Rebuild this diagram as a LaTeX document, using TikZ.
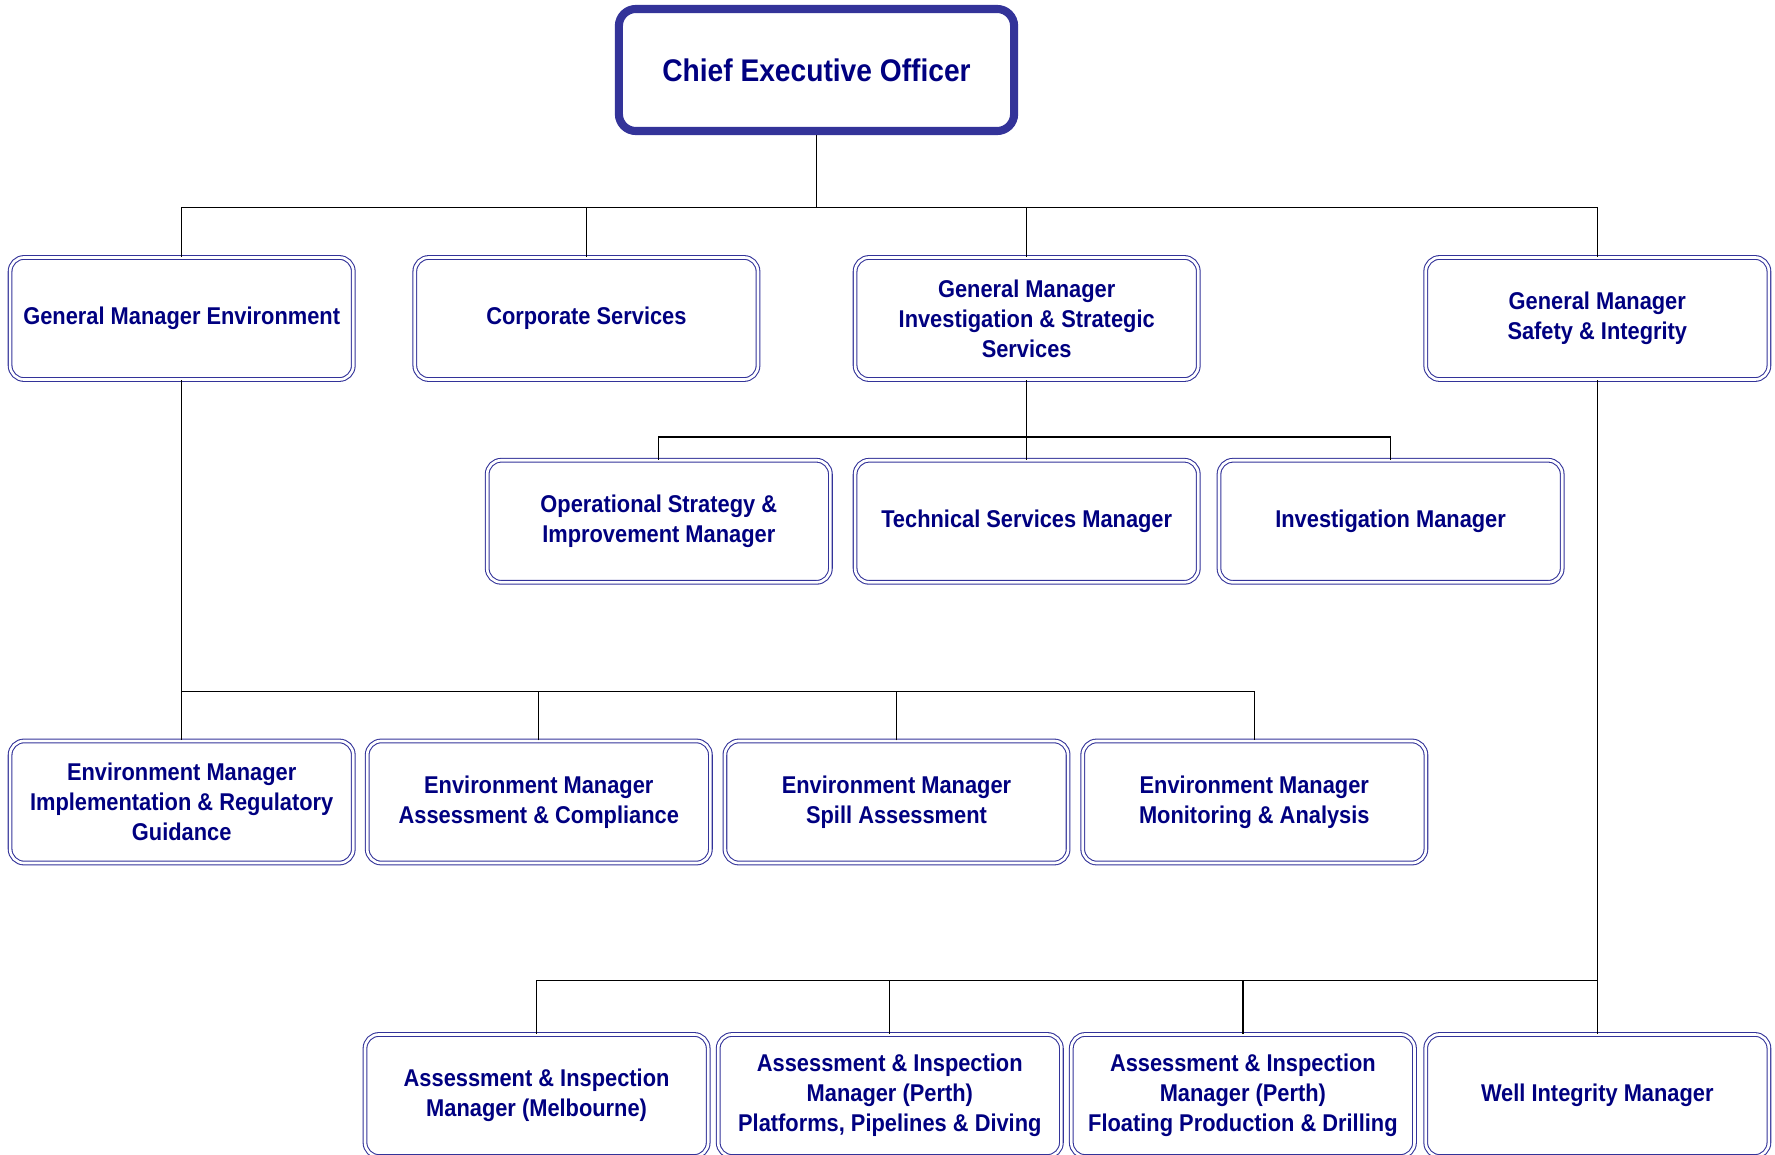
\documentclass[tikz,border=0pt]{standalone}
\usepackage{fontspec}
\setmainfont{Liberation Sans}[FakeStretch=0.9]
\definecolor{boxblue}{RGB}{51,51,153}
\definecolor{textnavy}{RGB}{0,0,128}

\begin{document}
\begin{tikzpicture}[x=0.01cm,y=-0.01cm,
  post/.style={draw=boxblue,double,double distance=0.75pt,line width=0.3pt,rounded corners=0.14cm,
    minimum width=3.43cm,minimum height=1.22cm,align=center,inner sep=1pt,
    text=textnavy,font=\fontsize{6.9}{8.5}\selectfont\bfseries},
  chief/.style={draw=boxblue,line width=2.3pt,rounded corners=0.17cm,
    minimum width=3.95cm,minimum height=1.22cm,align=center,
    text=textnavy,font=\fontsize{8.9}{11}\selectfont\bfseries},
  link/.style={line width=0.35pt}]

\useasboundingbox (0,0) rectangle (1775,1155);

% top
\node[chief] (ceo) at (816.5,70) {Chief Executive Officer};

% general managers
\node[post] (gme) at (181.7,318.5) {General Manager Environment};
\node[post] (corp) at (586.4,318.5) {Corporate Services};
\node[post] (gmis) at (1026.7,318.5) {General Manager\\Investigation \& Strategic\\Services};
\node[post] (gmsi) at (1597.3,318.5) {General Manager\\Safety \& Integrity};

% investigation & strategic services
\node[post] (osim) at (658.8,521.3) {Operational Strategy \&\\Improvement Manager};
\node[post] (tsm) at (1026.7,521.3) {Technical Services Manager};
\node[post] (invm) at (1390.6,521.3) {Investigation Manager};

% environment
\node[post] (emir) at (181.7,802) {Environment Manager\\Implementation \& Regulatory\\Guidance};
\node[post] (emac) at (538.8,802) {Environment Manager\\Assessment \& Compliance};
\node[post] (emsa) at (896.5,802) {Environment Manager\\Spill Assessment};
\node[post] (emma) at (1254.3,802) {Environment Manager\\Monitoring \& Analysis};

% safety & integrity
\node[post] (aimm) at (536.6,1095.5) {Assessment \& Inspection\\Manager (Melbourne)};
\node[post] (aipp) at (889.8,1095.5) {Assessment \& Inspection\\Manager (Perth)\\Platforms, Pipelines \& Diving};
\node[post] (aifp) at (1242.9,1095.5) {Assessment \& Inspection\\Manager (Perth)\\Floating Production \& Drilling};
\node[post] (wim) at (1597.3,1095.5) {Well Integrity Manager};

\coordinate (bus1) at (0,207.2);
\coordinate (bus2) at (0,436.9);
\coordinate (bus3) at (0,691.6);
\coordinate (bus4) at (0,980.3);

\draw[link] (ceo.south) -- (ceo.south |- bus1);
\draw[link] (gme.north) |- (bus1 -| gmsi.north) -- (gmsi.north);
\draw[link] (corp.north) -- (corp.north |- bus1);
\draw[link] (gmis.north) -- (gmis.north |- bus1);

\draw[link] (gmis.south) -- (tsm.north);
\draw[link] (osim.north) |- (bus2 -| invm.north) -- (invm.north);

\draw[link] (gme.south) -- (emir.north);
\draw[link] (emir.north |- bus3) -| (emma.north);
\draw[link] (emac.north) -- (emac.north |- bus3);
\draw[link] (emsa.north) -- (emsa.north |- bus3);

\draw[link] (gmsi.south) -- (wim.north);
\draw[link] (aimm.north) |- (bus4 -| wim.north);
\draw[link] (aipp.north) -- (aipp.north |- bus4);
\draw[link] (aifp.north) -- (aifp.north |- bus4);
\end{tikzpicture}
\end{document}
